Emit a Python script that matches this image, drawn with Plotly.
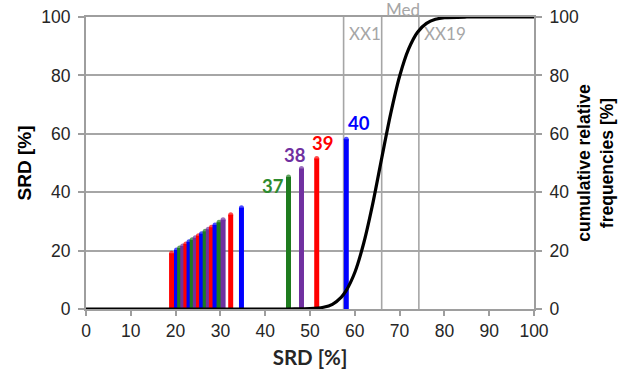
import plotly.graph_objects as go

# Ranked items: rank number and SRD value [%] (bar height equals its SRD)
ranks = list(range(19, 41))
srd = [19.1, 20.2, 20.9, 21.6, 22.3, 23.0, 23.7, 24.4, 25.1, 25.8, 26.6,
       27.3, 28.0, 28.8, 29.7, 30.6, 32.3, 34.7, 45.2, 48.1, 51.5, 58.1]

# Colour cycle follows rank modulo 4
rank_colors = {1: "#1E7B1E", 2: "#7030A0", 3: "#FF0000", 0: "#0000FF"}
label_colors = {1: "#2E8B2E", 2: "#7030A0", 3: "#FF0000", 0: "#0000FF"}

# Ranks that carry a number label, with the label offset (px) from the bar top
labelled_ranks = [37, 38, 39, 40]
label_dx = [-16, -6, 6, 13]
label_dy = [-9, 14, 16, 16]

# Cumulative relative frequency curve [%]
cdf_x = [0, 45, 50, 53, 55, 57, 58, 60, 62, 64, 66, 68, 70, 72, 74, 76, 78, 80, 85, 100]
cdf_y = [0, 0, 0.1, 0.6, 1.6, 4.1, 6.1, 12.5, 22.6, 36.0, 51.6, 66.8, 79.7,
         89.0, 94.8, 97.8, 99.2, 99.75, 100, 100]

# Reference quantiles of the distribution
quant_names = ["XX1", "Med", "XX19"]
quant_x = [57.5, 66.0, 74.3]

x_ticks = list(range(0, 101, 10))
y_ticks = list(range(0, 101, 20))

GRAY = "#A6A6A6"
AXIS_GRAY = "#9E9E9E"
TICK_FONT = dict(family="Liberation Sans, Arial, sans-serif", size=17.5, color="#262626")

fig = go.Figure()

# Quantile markers as vertical lines across the full height
for name, q in zip(quant_names, quant_x):
    fig.add_trace(go.Scatter(
        x=[q, q], y=[0, 100], mode="lines",
        line=dict(color=GRAY, width=1.6),
        hoverinfo="skip", showlegend=False, yaxis="y"))

# SRD bars drawn as thick vertical strokes with a rounded top
for r, v in zip(ranks, srd):
    c = rank_colors[r % 4]
    fig.add_trace(go.Scatter(
        x=[v, v], y=[0, v], mode="lines+markers",
        line=dict(color=c, width=5),
        marker=dict(color=c, size=[0, 5], line=dict(width=0)),
        name=str(r), showlegend=False, yaxis="y"))

# Cumulative curve on the right-hand axis
fig.add_trace(go.Scatter(
    x=cdf_x, y=cdf_y, mode="lines",
    line=dict(color="black", width=3.2, shape="spline", smoothing=0.8),
    showlegend=False, yaxis="y2"))

annotations = []
for r, dx, dy in zip(labelled_ranks, label_dx, label_dy):
    v = srd[ranks.index(r)]
    annotations.append(dict(
        x=v, y=v, xref="x", yref="y", text=f"<b>{r}</b>", showarrow=False,
        xshift=dx, yshift=dy,
        font=dict(family="Lato, sans-serif", size=18.5, color=label_colors[r % 4])))

for name, q in zip(quant_names, quant_x):
    if name == "Med":
        annotations.append(dict(
            x=q, y=100, xref="x", yref="y", text=name, showarrow=False,
            xanchor="left", yanchor="bottom", xshift=2, yshift=-5,
            font=dict(family="Lato, sans-serif", size=17, color=GRAY)))
    else:
        annotations.append(dict(
            x=q, y=100, xref="x", yref="y", text=name, showarrow=False,
            xanchor="left", yanchor="top", xshift=3, yshift=-4,
            font=dict(family="Lato, sans-serif", size=17, color=GRAY)))

fig.update_layout(
    width=628, height=376,
    margin=dict(l=86, r=94, t=17, b=67, autoexpand=False),
    paper_bgcolor="white", plot_bgcolor="white",
    annotations=annotations,
    xaxis=dict(
        range=[0, 100], tickvals=x_ticks, ticks="outside", ticklen=5,
        tickcolor=AXIS_GRAY, tickwidth=1.5, showline=True, mirror=True,
        linecolor=AXIS_GRAY, linewidth=2, showgrid=False, zeroline=False,
        tickfont=TICK_FONT, layer="below traces", automargin=False,
        title=dict(text="<b>SRD [%]</b>", standoff=11,
                   font=dict(family="Lato, sans-serif", size=20.5, color="#262626"))),
    yaxis=dict(
        range=[0, 100], tickvals=y_ticks, ticks="outside", ticklen=6,
        tickcolor=AXIS_GRAY, tickwidth=1.5, showline=True,
        linecolor=AXIS_GRAY, linewidth=2, showgrid=True, gridcolor=GRAY,
        gridwidth=1.5, zeroline=False, tickfont=TICK_FONT, layer="below traces",
        ticklabelstandoff=4, automargin=False,
        title=dict(text="<b>SRD [%]</b>", standoff=5,
                   font=dict(family="Liberation Sans, Arial, sans-serif", size=19,
                             color="black"))),
    yaxis2=dict(
        range=[0, 100], tickvals=y_ticks, ticks="outside", ticklen=6,
        tickcolor=AXIS_GRAY, tickwidth=1.5, showline=True, overlaying="y",
        side="right", linecolor=AXIS_GRAY, linewidth=2, showgrid=False,
        zeroline=False, tickfont=TICK_FONT, layer="below traces",
        ticklabelstandoff=4, automargin=False,
        title=dict(text="<b>cumulative relative<br>frequencies [%]</b>", standoff=0,
                   font=dict(family="Liberation Sans, Arial, sans-serif", size=17.5,
                             color="black"))),
)

fig.write_html("out.html")
